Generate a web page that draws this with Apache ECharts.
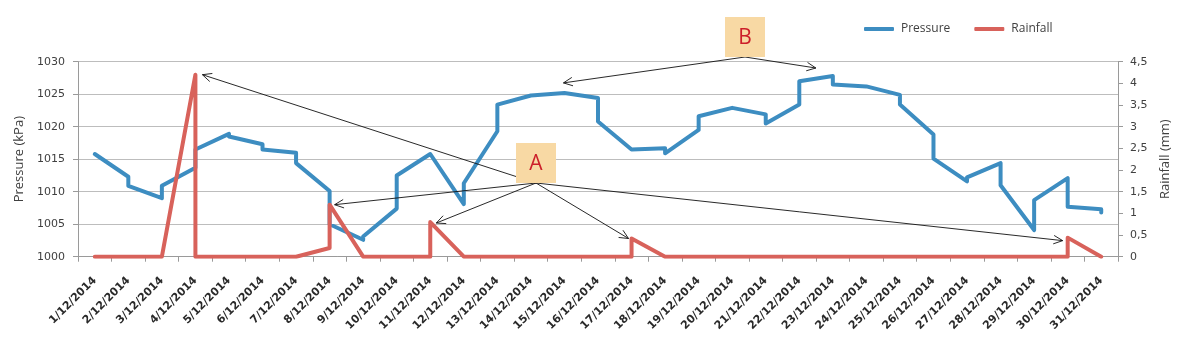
<!DOCTYPE html>
<html>
<head>
<meta charset="utf-8">
<script src="https://cdn.jsdelivr.net/npm/echarts@6/dist/echarts.min.js"></script>
<style>
html,body{margin:0;padding:0;background:#fff;}
#chart{width:1200px;height:340px;}
</style>
</head>
<body>
<div id="chart"></div>
<script>
// ---- data ----
const days = ['1/12/2014','2/12/2014','3/12/2014','4/12/2014','5/12/2014','6/12/2014','7/12/2014','8/12/2014','9/12/2014','10/12/2014','11/12/2014','12/12/2014','13/12/2014','14/12/2014','15/12/2014','16/12/2014','17/12/2014','18/12/2014','19/12/2014','20/12/2014','21/12/2014','22/12/2014','23/12/2014','24/12/2014','25/12/2014','26/12/2014','27/12/2014','28/12/2014','29/12/2014','30/12/2014','31/12/2014'];
// two readings per day (first, second) in kPa
const pressureFirst  = [1015.8,1012.3,1009.0,1013.7,1018.9,1017.3,1016.0,1010.1,1002.6,1007.4,1015.8,1008.1,1019.3,1024.8,1025.2,1024.4,1016.5,1016.7,1019.5,1022.9,1021.9,1023.4,1027.8,1026.2,1024.9,1018.8,1011.6,1014.4,1004.1,1012.1,1007.3];
const pressureSecond = [1015.8,1010.9,1010.9,1016.5,1018.5,1016.5,1014.4,1005.0,1003.1,1012.5,1015.8,1011.3,1023.4,1024.9,1025.0,1020.8,1016.5,1015.9,1021.6,1022.7,1020.5,1027.0,1026.5,1026.1,1023.4,1015.1,1012.2,1011.0,1008.7,1007.7,1006.8];
// rainfall (mm), two readings per day (first, second)
const rainFirst  = [0,0,0,4.2,0,0,0,0.2,0,0,0,0,0,0,0,0,0,0,0,0,0,0,0,0,0,0,0,0,0,0,0];
const rainSecond = [0,0,0,0,0,0,0,1.2,0,0,0.8,0,0,0,0,0,0.42,0,0,0,0,0,0,0,0,0,0,0,0,0.44,0];
const leftTicks = {min:1000, max:1030, step:5};
const rightTicks = {min:0, max:4.5, step:0.5};

function pairs(a, b){
  const out = [];
  for (let i = 0; i < days.length; i++){ out.push([i, a[i]]); out.push([i, b[i]]); }
  return out;
}

const BLUE = '#3D8DC1', RED = '#D8625B';
const chart = echarts.init(document.getElementById('chart'), null, {renderer:'canvas'});
const option = {
  animation:false,
  backgroundColor:'#fff',
  textStyle:{fontFamily:'DejaVu Sans'},
  grid:{left:78, right:82, top:61.7, bottom:83.3, containLabel:false},
  legend:{
    left:859, top:18, itemWidth:30, itemHeight:4, itemGap:24, icon:'roundRect',
    textStyle:{fontFamily:'Open Sans', fontSize:12, color:'#404040', padding:[0,0,0,2]},
    data:['Pressure','Rainfall']
  },
  xAxis:{
    type:'category', data:days, boundaryGap:true,
    axisLine:{lineStyle:{color:'#9a9a9a', width:1}},
    axisTick:{show:true, length:5, lineStyle:{color:'#9a9a9a'}},
    axisLabel:{interval:0, rotate:45, margin:22, fontSize:11, fontWeight:'bold', color:'#2a2a2a', fontFamily:'DejaVu Sans'},
    splitLine:{show:false}
  },
  yAxis:[
    {
      type:'value', min:leftTicks.min, max:leftTicks.max, interval:leftTicks.step,
      name:'Pressure (kPa)', nameLocation:'middle', nameRotate:90, nameGap:47,
      nameTextStyle:{fontFamily:'Open Sans', fontSize:13, color:'#404040'},
      axisLine:{show:true, lineStyle:{color:'#9a9a9a'}},
      axisTick:{show:true, length:5, lineStyle:{color:'#9a9a9a'}},
      axisLabel:{margin:13, fontSize:11, color:'#404040', fontFamily:'DejaVu Sans',
        formatter:function(v){ return String(v); }},
      splitLine:{show:true, lineStyle:{color:'#bdbdbd', width:1}}
    },
    {
      type:'value', min:rightTicks.min, max:rightTicks.max, interval:rightTicks.step, position:'right',
      name:'Rainfall (mm)', nameLocation:'middle', nameRotate:90, nameGap:40,
      nameTextStyle:{fontFamily:'Open Sans', fontSize:13, color:'#404040'},
      axisLine:{show:true, lineStyle:{color:'#9a9a9a'}},
      axisTick:{show:true, length:5, lineStyle:{color:'#9a9a9a'}},
      axisLabel:{margin:12, fontSize:11, color:'#404040', fontFamily:'DejaVu Sans',
        formatter:function(v){ return String(Math.round(v*10)/10).replace('.', ','); }},
      splitLine:{show:false}
    }
  ],
  series:[
    {name:'Pressure', type:'line', yAxisIndex:0, data:pairs(pressureFirst, pressureSecond),
     showSymbol:false, symbol:'none', color:BLUE,
     lineStyle:{color:BLUE, width:4, join:'round', cap:'round'}, z:2},
    {name:'Rainfall', type:'line', yAxisIndex:1, data:pairs(rainFirst, rainSecond),
     showSymbol:false, symbol:'none', color:RED,
     lineStyle:{color:RED, width:4, join:'round', cap:'round'}, z:3}
  ]
};
chart.setOption(option);

// ---- annotations (callouts A and B with arrows to data points) ----
function px(axisY, dayIdx, val){
  return chart.convertToPixel({xAxisIndex:0, yAxisIndex:axisY}, [dayIdx, val]);
}
function arrow(from, to){
  const dx = to[0]-from[0], dy = to[1]-from[1];
  const len = Math.sqrt(dx*dx+dy*dy), ux = dx/len, uy = dy/len;
  const L = 10, a = 25*Math.PI/180, c = Math.cos(a), s = Math.sin(a);
  const p1 = [to[0] - L*(ux*c - uy*s), to[1] - L*(uy*c + ux*s)];
  const p2 = [to[0] - L*(ux*c + uy*s), to[1] - L*(uy*c - ux*s)];
  return [
    {type:'line', z:50, shape:{x1:from[0], y1:from[1], x2:to[0], y2:to[1]}, style:{stroke:'#111', lineWidth:0.9}},
    {type:'polyline', z:50, shape:{points:[p1, to, p2]}, style:{stroke:'#111', lineWidth:0.9, fill:null}}
  ];
}
function box(cx, top, label){
  return [
    {type:'rect', z:60, shape:{x:cx-20, y:top, width:40, height:40}, style:{fill:'#F8D9A4'}},
    {type:'text', z:61, x:cx, y:top+21, style:{text:label, fill:'#CC1F2A', font:'21px "Open Sans"', align:'center', verticalAlign:'middle', textAlign:'center', textVerticalAlign:'middle'}}
  ];
}
function offset(p, dx, dy){ return [p[0]+dx, p[1]+dy]; }

const aFrom = [536, 183];
const bFrom = [745, 57];
let g = [];
g = g.concat(arrow(aFrom, offset(px(1, 3, rainFirst[3]), 7, 0)));
g = g.concat(arrow(aFrom, offset(px(1, 7, rainSecond[7]), 5, 0)));
g = g.concat(arrow(aFrom, offset(px(1, 10, rainSecond[10]), 6, 1)));
g = g.concat(arrow(aFrom, offset(px(1, 16, rainSecond[16]), -3, 0)));
g = g.concat(arrow(aFrom, offset(px(1, 29, rainSecond[29]), -5, 3)));
g = g.concat(arrow(bFrom, offset(px(0, 14, pressureFirst[14]), -1, -10)));
g = g.concat(arrow(bFrom, offset(px(0, 22, pressureFirst[22]), -17, -8)));
g = g.concat(box(536, 143, 'A'));
g = g.concat(box(745, 17, 'B'));
chart.setOption({graphic:{elements:g}});
</script>
</body>
</html>
